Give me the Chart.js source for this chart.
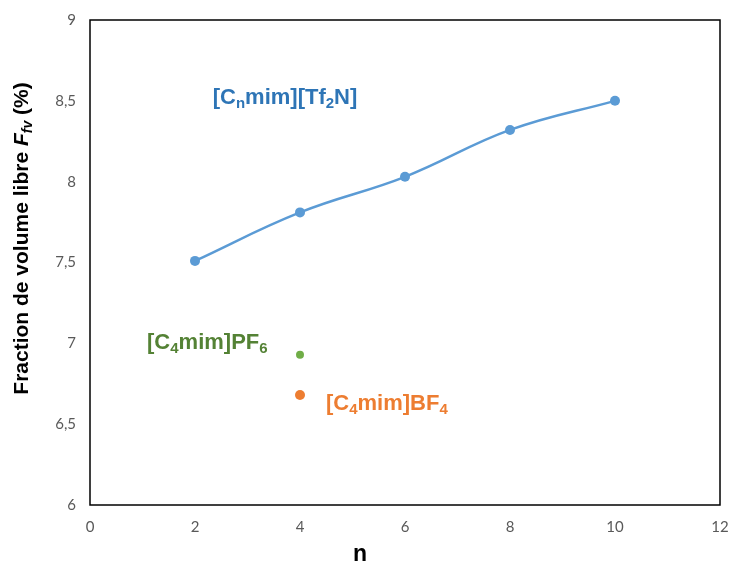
<!DOCTYPE html>
<html>
<head>
<meta charset="utf-8">
<script src="https://cdn.jsdelivr.net/npm/chart.js@4.4.1/dist/chart.umd.min.js"></script>
<style>
html,body{margin:0;padding:0;background:#fff;}
#wrap{width:731px;height:563px;}
</style>
</head>
<body>
<div id="wrap"><canvas id="c" width="731" height="563"></canvas></div>
<script>
// ---- data ----
const nTf2N = [2, 4, 6, 8, 10];
const ffvTf2N = [7.51, 7.81, 8.03, 8.32, 8.50];
const nPF6 = [4];
const ffvPF6 = [6.93];
const nBF4 = [4];
const ffvBF4 = [6.68];
const xTicks = [0, 2, 4, 6, 8, 10, 12];
const yTicks = [6, 6.5, 7, 7.5, 8, 8.5, 9];

const pts = (xs, ys) => xs.map((x, i) => ({x: x, y: ys[i]}));

const FONT = '"Liberation Sans", Arial, sans-serif';
const TICKFONT = 'Lato, "Open Sans", sans-serif';

function segFont(s, size) {
  const fs = s.sub ? Math.round(size * 0.68) : size;
  return (s.it ? 'italic ' : '') + 'bold ' + fs + 'px ' + FONT;
}
function drawRich(ctx, segs, x, y, size, color) {
  let cx = x;
  ctx.fillStyle = color;
  ctx.textBaseline = 'alphabetic';
  ctx.textAlign = 'left';
  for (const s of segs) {
    ctx.font = segFont(s, size);
    const dy = s.sub ? size * 0.17 : 0;
    ctx.fillText(s.t, cx, y + dy);
    cx += ctx.measureText(s.t).width;
  }
  return cx - x;
}
function measureRich(ctx, segs, size) {
  let w = 0;
  for (const s of segs) {
    ctx.font = segFont(s, size);
    w += ctx.measureText(s.t).width;
  }
  return w;
}

// annotation texts, anchored (left, baseline) in data coordinates
const labels = [
  {segs: [{t:'[C'},{t:'n',sub:true},{t:'mim][Tf'},{t:'2',sub:true},{t:'N]'}], x: 2.337, y: 8.480, color: '#2E75B6'},
  {segs: [{t:'[C'},{t:'4',sub:true},{t:'mim]PF'},{t:'6',sub:true}], x: 1.086, y: 6.965, color: '#548235'},
  {segs: [{t:'[C'},{t:'4',sub:true},{t:'mim]BF'},{t:'4',sub:true}], x: 4.495, y: 6.588, color: '#ED7D31'}
];

const decor = {
  id: 'decor',
  afterDraw(chart) {
    const ctx = chart.ctx;
    const a = chart.chartArea;
    const xs = chart.scales.x, ys = chart.scales.y;
    ctx.save();
    // frame
    ctx.strokeStyle = '#000';
    ctx.lineWidth = 1.5;
    ctx.strokeRect(a.left, a.top, a.right - a.left, a.bottom - a.top);
    // labels
    for (const l of labels) {
      drawRich(ctx, l.segs, xs.getPixelForValue(l.x), ys.getPixelForValue(l.y), 22, l.color);
    }
    // x axis title
    ctx.font = 'bold 23px ' + FONT;
    ctx.fillStyle = '#000';
    ctx.textAlign = 'center';
    ctx.textBaseline = 'alphabetic';
    ctx.fillText('n', 360, 561);
    // y axis title
    const ysegs = [{t:'Fraction de volume libre '},{t:'F',it:true},{t:'fv',sub:true,it:true},{t:' (%)'}];
    const size = 21;
    const w = measureRich(ctx, ysegs, size);
    ctx.translate(28, 238.5);
    ctx.rotate(-Math.PI / 2);
    drawRich(ctx, ysegs, -w / 2, 0, size, '#000');
    ctx.restore();
  }
};

new Chart(document.getElementById('c'), {
  type: 'scatter',
  data: {
    datasets: [
      {
        label: 'Tf2N',
        data: pts(nTf2N, ffvTf2N),
        showLine: true,
        tension: 0.4,
        borderColor: '#5B9BD5',
        backgroundColor: '#5B9BD5',
        borderWidth: 2.5,
        pointRadius: 5,
        pointBorderWidth: 0
      },
      {
        label: 'PF6',
        data: pts(nPF6, ffvPF6),
        borderColor: '#70AD47',
        backgroundColor: '#70AD47',
        pointRadius: 4,
        pointBorderWidth: 0
      },
      {
        label: 'BF4',
        data: pts(nBF4, ffvBF4),
        borderColor: '#ED7D31',
        backgroundColor: '#ED7D31',
        pointRadius: 5,
        pointBorderWidth: 0
      }
    ]
  },
  options: {
    responsive: false,
    animation: false,
    layout: {padding: {left: 0, top: 20, right: 11, bottom: 0}},
    plugins: {legend: {display: false}, tooltip: {enabled: false}},
    scales: {
      x: {
        type: 'linear',
        min: 0, max: 12,
        afterBuildTicks(s) { s.ticks = xTicks.map(v => ({value: v})); },
        afterFit(s) { s.height = 58; s.paddingLeft = 0; s.paddingRight = 0; },
        grid: {display: false, drawTicks: false},
        border: {display: false},
        ticks: {
          padding: 13,
          color: '#595959',
          font: {family: TICKFONT, size: 15},
          callback: v => String(v)
        },
        title: {display: false}
      },
      y: {
        type: 'linear',
        min: 6, max: 9,
        afterBuildTicks(s) { s.ticks = yTicks.map(v => ({value: v})); },
        afterFit(s) { s.width = 90; s.paddingTop = 0; s.paddingBottom = 0; },
        grid: {display: false, drawTicks: false},
        border: {display: false},
        ticks: {
          padding: 14,
          color: '#595959',
          font: {family: TICKFONT, size: 15},
          callback: v => String(v).replace('.', ',')
        }
      }
    }
  },
  plugins: [decor]
});
</script>
</body>
</html>
